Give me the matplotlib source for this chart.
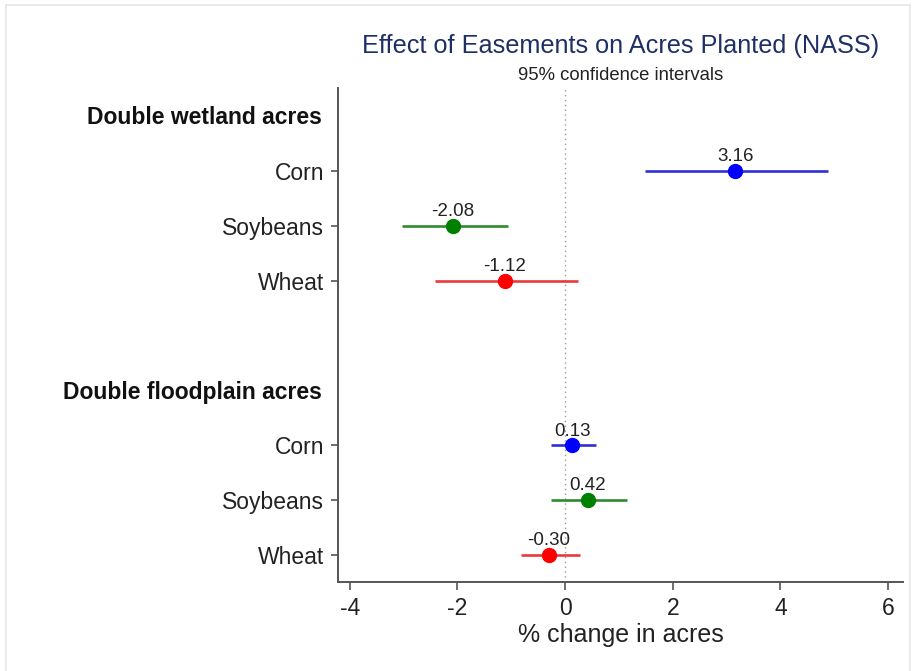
import matplotlib
matplotlib.use("Agg")
import matplotlib.pyplot as plt
import matplotlib.transforms as mtransforms
from matplotlib.patches import Rectangle

plt.rcParams['font.family'] = ['Liberation Sans', 'DejaVu Sans']

# ---- data ----
groups = ["Double wetland acres", "Double floodplain acres"]
crops = ["Corn", "Soybeans", "Wheat"]
wetland_est = [3.16, -2.08, -1.12]
wetland_lo = [1.48, -3.03, -2.41]
wetland_hi = [4.88, -1.06, 0.24]
flood_est = [0.13, 0.42, -0.30]
flood_lo = [-0.26, -0.26, -0.81]
flood_hi = [0.57, 1.16, 0.28]
xticks = [-4, -2, 0, 2, 4, 6]

marker_colors = ["#0000ff", "#008000", "#ff0000"]
line_colors = ["#2f2fd6", "#2e8b2e", "#e83a3a"]

# row layout: header, 3 crops, blank, header, 3 crops
header_pos = [1, 6]
crop_pos = [[2, 3, 4], [7, 8, 9]]

fig = plt.figure(figsize=(9.15, 6.71), dpi=100)
fig.patch.set_facecolor("white")
ax = fig.add_axes([338/915, 1-582/671, (903-338)/915, (582-88)/671])

ax.axvline(0, color="#9a9a9a", lw=1.0, ls=(0, (1, 2.5)), zorder=1)

sets = [(wetland_est, wetland_lo, wetland_hi), (flood_est, flood_lo, flood_hi)]
for g, (est, lo, hi) in enumerate(sets):
    for i in range(3):
        y = crop_pos[g][i]
        ax.plot([lo[i], hi[i]], [y, y], color=line_colors[i], lw=1.9, zorder=2,
                solid_capstyle="butt")
        ax.plot(est[i], y, "o", color=marker_colors[i], ms=10, zorder=3)
        ax.annotate(f"{est[i]:.2f}", (est[i], y), xytext=(0, 7),
                    textcoords="offset points", ha="center", va="baseline",
                    fontsize=13.5, color="#222222")

ax.set_xlim(-4.22, 6.28)
ax.set_ylim(9.49, 0.49)

yt = crop_pos[0] + crop_pos[1]
ax.set_yticks(yt)
ax.set_yticklabels(crops + crops, fontsize=16.5, color="#222222")
ax.tick_params(axis="y", length=5, width=1.2, color="#555555", pad=5)
ax.set_xticks(xticks)
ax.set_xticklabels([str(v) for v in xticks], fontsize=16.5, color="#222222")
ax.tick_params(axis="x", length=6, width=1.2, color="#555555", pad=5)

trans = mtransforms.blended_transform_factory(fig.transFigure, ax.transData)
for g, hp in enumerate(header_pos):
    ax.text(322/915, hp + 0.03, groups[g], transform=trans, ha="right", va="center",
            fontsize=16.5, fontweight="bold", color="#111111")

for s in ["top", "right"]:
    ax.spines[s].set_visible(False)
for s in ["left", "bottom"]:
    ax.spines[s].set_color("#555555")
    ax.spines[s].set_linewidth(1.4)

ax.set_xlabel("% change in acres", fontsize=18, color="#222222", labelpad=2)

fig.text(620.5/915, 1-46/671, "Effect of Easements on Acres Planted (NASS)",
         ha="center", va="center", fontsize=18.2, color="#1e2f66")
fig.text(620.5/915, 1-75/671, "95% confidence intervals",
         ha="center", va="center", fontsize=13.3, color="#222222")

fig.add_artist(Rectangle((5.5/915, -0.05), (909.5-5.5)/915, 1.05-5.5/671,
                         transform=fig.transFigure, fill=False,
                         edgecolor="#e6e6e6", lw=1.2))

fig.savefig("out.png", dpi=100)
